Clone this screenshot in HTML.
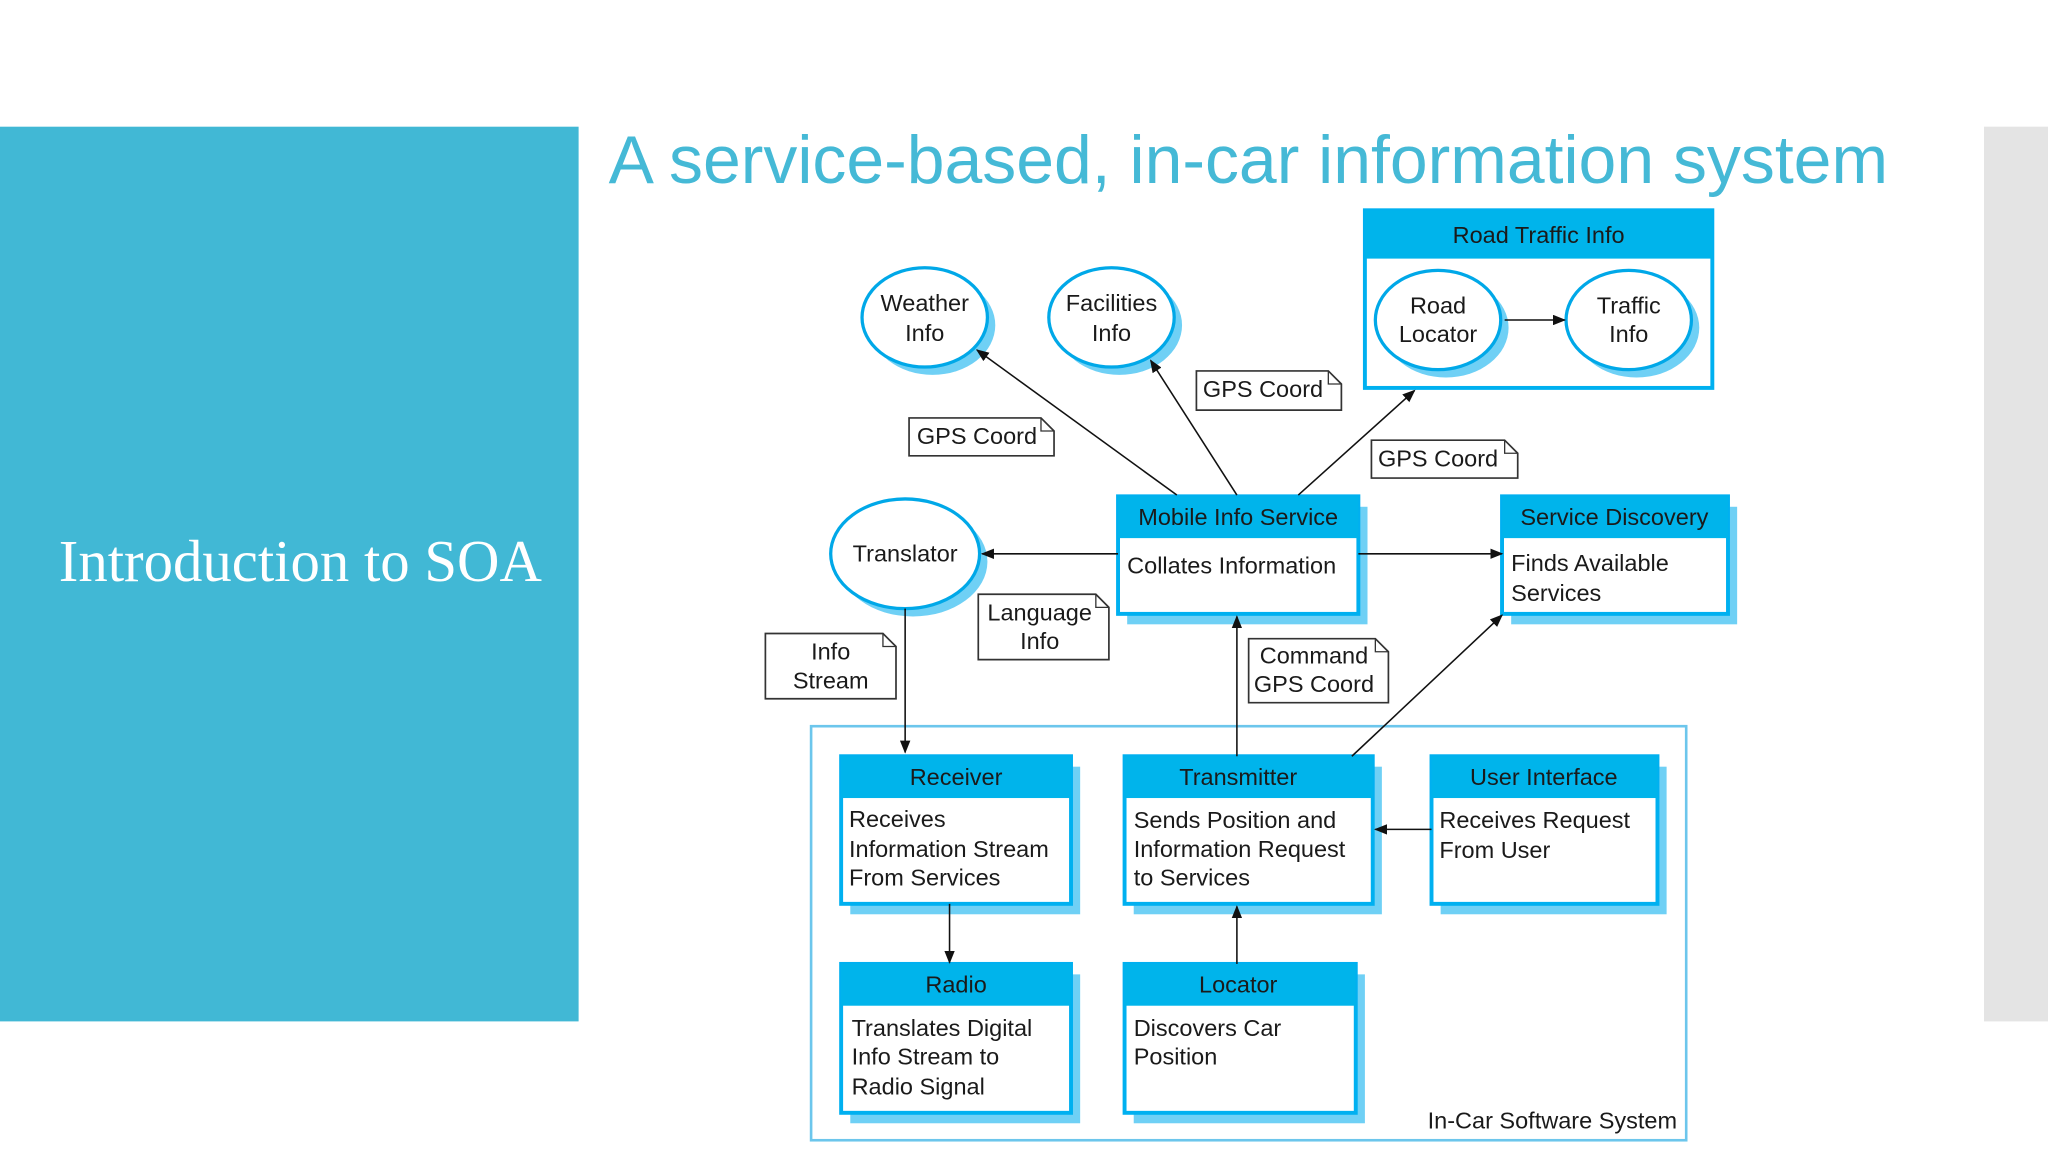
<!DOCTYPE html>
<html><head><meta charset="utf-8"><style>
html,body{margin:0;padding:0;background:#fff;}
svg{display:block;}
text{font-family:"Liberation Sans",sans-serif;fill:#1a1a1a;font-size:18px;}
</style></head><body>
<svg width="2048" height="1152" viewBox="0 0 1568 882" xmlns="http://www.w3.org/2000/svg">
<defs>
<marker id="a" markerWidth="10" markerHeight="8" refX="9" refY="4" orient="auto" markerUnits="userSpaceOnUse"><path d="M0,0 L10,4 L0,8 Z" fill="#111"/></marker>
</defs>
<rect width="1568" height="882" fill="#fff"/>
<rect x="0" y="97" width="443" height="685" fill="#41b8d5"/>
<rect x="1519" y="97" width="49" height="685" fill="#e4e4e4"/>
<text x="466" y="140" style="font-family:'Liberation Sans',sans-serif;font-size:52px;fill:#45b9d6">A service-based, in-car information system</text>
<text x="45" y="445" style="font-family:'Liberation Serif',serif;font-size:45px;fill:#fff">Introduction to SOA</text>

<rect x="621" y="556" width="670" height="317" fill="none" stroke="#6cc6ec" stroke-width="2"/>
<text x="1284" y="864" text-anchor="end">In-Car Software System</text>

<rect x="1045" y="161" width="266" height="136" fill="#fff" stroke="#00b0f0" stroke-width="3"/>
<rect x="1045" y="161" width="266" height="37" fill="#00b4eb"/>
<text x="1178" y="186" text-anchor="middle">Road Traffic Info</text>

<g fill="#6fd0f5">
<ellipse cx="714" cy="249" rx="48" ry="38"/>
<ellipse cx="857" cy="249" rx="48" ry="38"/>
<ellipse cx="1107" cy="251" rx="48" ry="38"/>
<ellipse cx="1253" cy="251" rx="48" ry="38"/>
<ellipse cx="699" cy="430" rx="57" ry="42"/>
</g>
<g fill="#fff" stroke="#00a8e8" stroke-width="2.5">
<ellipse cx="708" cy="243" rx="48" ry="38"/>
<ellipse cx="851" cy="243" rx="48" ry="38"/>
<ellipse cx="1101" cy="245" rx="48" ry="38"/>
<ellipse cx="1247" cy="245" rx="48" ry="38"/>
<ellipse cx="693" cy="424" rx="57" ry="42"/>
</g>
<g text-anchor="middle">
<text x="708" y="238">Weather</text><text x="708" y="261">Info</text>
<text x="851" y="238">Facilities</text><text x="851" y="261">Info</text>
<text x="1101" y="240">Road</text><text x="1101" y="262">Locator</text>
<text x="1247" y="240">Traffic</text><text x="1247" y="262">Info</text>
<text x="693" y="430">Translator</text>
</g>

<g fill="#6fd0f5">
<rect x="863" y="388" width="184" height="90"/>
<rect x="1157" y="388" width="173" height="90"/>
<rect x="651" y="587" width="176" height="113"/>
<rect x="868" y="587" width="190" height="113"/>
<rect x="1103" y="587" width="173" height="113"/>
<rect x="651" y="746" width="176" height="114"/>
<rect x="868" y="746" width="177" height="114"/>
</g>
<g fill="#fff" stroke="#00b0f0" stroke-width="3">
<rect x="856" y="380" width="184" height="90"/>
<rect x="1150" y="380" width="173" height="90"/>
<rect x="644" y="579" width="176" height="113"/>
<rect x="861" y="579" width="190" height="113"/>
<rect x="1096" y="579" width="173" height="113"/>
<rect x="644" y="738" width="176" height="114"/>
<rect x="861" y="738" width="177" height="114"/>
</g>
<g fill="#00b4eb">
<rect x="856" y="380" width="184" height="32"/>
<rect x="1150" y="380" width="173" height="32"/>
<rect x="644" y="579" width="176" height="32"/>
<rect x="861" y="579" width="190" height="32"/>
<rect x="1096" y="579" width="173" height="32"/>
<rect x="644" y="738" width="176" height="32"/>
<rect x="861" y="738" width="177" height="32"/>
</g>
<g text-anchor="middle">
<text x="948" y="402">Mobile Info Service</text>
<text x="1236" y="402">Service Discovery</text>
<text x="732" y="601">Receiver</text>
<text x="948" y="601">Transmitter</text>
<text x="1182" y="601">User Interface</text>
<text x="732" y="760">Radio</text>
<text x="948" y="760">Locator</text>
</g>
<text x="863" y="439">Collates Information</text>
<text x="1157" y="437">Finds Available</text><text x="1157" y="460">Services</text>
<text x="650" y="633">Receives</text><text x="650" y="656">Information Stream</text><text x="650" y="678">From Services</text>
<text x="868" y="634">Sends Position and</text><text x="868" y="656">Information Request</text><text x="868" y="678">to Services</text>
<text x="1102" y="634">Receives Request</text><text x="1102" y="657">From User</text>
<text x="652" y="793">Translates Digital</text><text x="652" y="815">Info Stream to</text><text x="652" y="838">Radio Signal</text>
<text x="868" y="793">Discovers Car</text><text x="868" y="815">Position</text>

<g fill="#fff" stroke="#333" stroke-width="1.3">
<path d="M696,320 H797 L807,330 V349 H696 Z"/>
<path d="M916,284 H1017 L1027,294 V314 H916 Z"/>
<path d="M1050,337 H1152 L1162,347 V366 H1050 Z"/>
<path d="M749,455 H839 L849,465 V505 H749 Z"/>
<path d="M586,485 H676 L686,495 V535 H586 Z"/>
<path d="M956,489 H1053 L1063,499 V538 H956 Z"/>
</g>
<g fill="none" stroke="#333" stroke-width="1">
<path d="M797,320 V330 H807"/><path d="M1017,284 V294 H1027"/><path d="M1152,337 V347 H1162"/>
<path d="M839,455 V465 H849"/><path d="M676,485 V495 H686"/><path d="M1053,489 V499 H1063"/>
</g>
<g text-anchor="middle">
<text x="748" y="340">GPS Coord</text>
<text x="967" y="304">GPS Coord</text>
<text x="1101" y="357">GPS Coord</text>
<text x="796" y="475">Language</text><text x="796" y="497">Info</text>
<text x="636" y="505">Info</text><text x="636" y="527">Stream</text>
<text x="1006" y="508">Command</text><text x="1006" y="530">GPS Coord</text>
</g>

<g stroke="#111" stroke-width="1.2" fill="none" marker-end="url(#a)">
<line x1="901" y1="379" x2="748" y2="268"/>
<line x1="947" y1="379" x2="881" y2="276"/>
<line x1="994" y1="379" x2="1083" y2="299"/>
<line x1="856" y1="424" x2="752" y2="424"/>
<line x1="1040" y1="424" x2="1150" y2="424"/>
<line x1="693" y1="466" x2="693" y2="576"/>
<line x1="947" y1="579" x2="947" y2="472"/>
<line x1="1035" y1="579" x2="1150" y2="471"/>
<line x1="1096" y1="635" x2="1053" y2="635"/>
<line x1="727" y1="692" x2="727" y2="737"/>
<line x1="947" y1="738" x2="947" y2="694"/>
<line x1="1152" y1="245" x2="1198" y2="245"/>
</g>
</svg>
</body></html>
